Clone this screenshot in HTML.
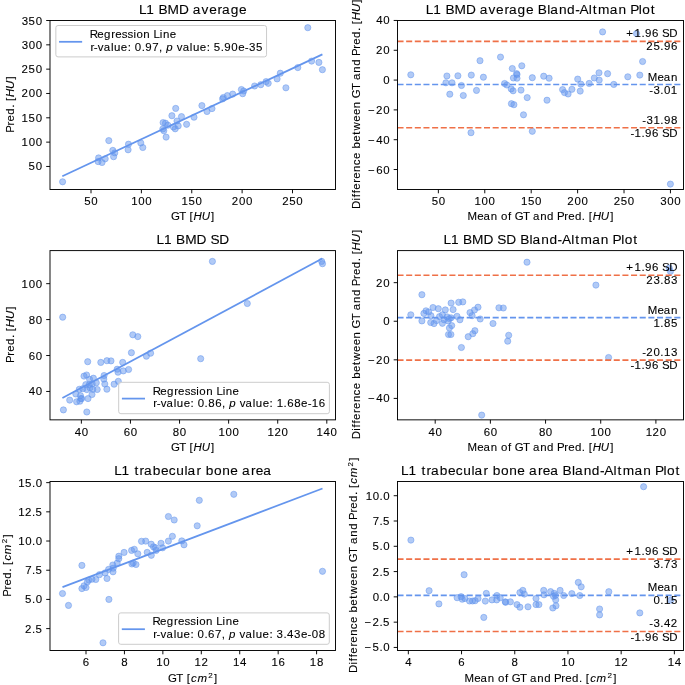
<!DOCTYPE html>
<html><head><meta charset="utf-8"><style>
html,body{margin:0;padding:0;background:#fff;}
svg{display:block;will-change:transform;}
svg text{font-family:"Liberation Sans",sans-serif;white-space:pre;}
</style></head><body>
<svg width="685" height="685" viewBox="0 0 685 685">
<rect width="685" height="685" fill="#fff"/>
<g fill="#6495ED" fill-opacity="0.5" stroke="#6495ED" stroke-opacity="0.5" stroke-width="1.0"><circle cx="62.6" cy="181.8" r="3.1"/><circle cx="98.6" cy="157.9" r="3.1"/><circle cx="98.1" cy="161.6" r="3.1"/><circle cx="102.0" cy="162.5" r="3.1"/><circle cx="105.2" cy="158.8" r="3.1"/><circle cx="108.8" cy="140.6" r="3.1"/><circle cx="112.8" cy="150.4" r="3.1"/><circle cx="114.8" cy="152.9" r="3.1"/><circle cx="113.6" cy="156.7" r="3.1"/><circle cx="128.5" cy="144.2" r="3.1"/><circle cx="128.1" cy="149.8" r="3.1"/><circle cx="140.8" cy="143.0" r="3.1"/><circle cx="142.8" cy="147.5" r="3.1"/><circle cx="166.1" cy="137.1" r="3.1"/><circle cx="163.1" cy="122.6" r="3.1"/><circle cx="165.5" cy="123.2" r="3.1"/><circle cx="167.8" cy="125.2" r="3.1"/><circle cx="162.8" cy="129.0" r="3.1"/><circle cx="163.8" cy="130.7" r="3.1"/><circle cx="175.7" cy="108.4" r="3.1"/><circle cx="171.9" cy="115.7" r="3.1"/><circle cx="181.5" cy="116.6" r="3.1"/><circle cx="177.0" cy="121.0" r="3.1"/><circle cx="178.2" cy="125.9" r="3.1"/><circle cx="175.2" cy="128.8" r="3.1"/><circle cx="173.4" cy="127.0" r="3.1"/><circle cx="186.6" cy="124.3" r="3.1"/><circle cx="194.0" cy="117.2" r="3.1"/><circle cx="201.9" cy="105.6" r="3.1"/><circle cx="207.0" cy="111.5" r="3.1"/><circle cx="212.0" cy="108.6" r="3.1"/><circle cx="222.6" cy="98.9" r="3.1"/><circle cx="223.3" cy="97.5" r="3.1"/><circle cx="227.4" cy="95.6" r="3.1"/><circle cx="232.7" cy="94.1" r="3.1"/><circle cx="241.4" cy="89.5" r="3.1"/><circle cx="243.7" cy="91.0" r="3.1"/><circle cx="242.7" cy="93.7" r="3.1"/><circle cx="254.6" cy="86.0" r="3.1"/><circle cx="260.8" cy="84.7" r="3.1"/><circle cx="266.1" cy="81.6" r="3.1"/><circle cx="268.2" cy="83.3" r="3.1"/><circle cx="277.1" cy="78.9" r="3.1"/><circle cx="280.3" cy="73.2" r="3.1"/><circle cx="285.9" cy="87.8" r="3.1"/><circle cx="297.8" cy="67.6" r="3.1"/><circle cx="307.8" cy="27.7" r="3.1"/><circle cx="311.6" cy="61.1" r="3.1"/><circle cx="318.9" cy="62.4" r="3.1"/><circle cx="322.4" cy="69.7" r="3.1"/></g>
<line x1="62.30" y1="176.30" x2="322.40" y2="54.40" stroke="#6495ED" stroke-width="1.75" stroke-linecap="butt"/>
<rect x="50" y="20.5" width="285.5" height="169.0" fill="none" stroke="#000" stroke-width="0.95"/>
<line x1="91.00" y1="189.50" x2="91.00" y2="193.30" stroke="#000" stroke-width="0.95" stroke-linecap="butt"/>
<g transform="translate(91.00,204.90)" fill="#000" stroke="#000" stroke-width="0.1"><text x="-6.72 0.30" y="0.00" font-size="11.46">50</text></g>
<line x1="141.38" y1="189.50" x2="141.38" y2="193.30" stroke="#000" stroke-width="0.95" stroke-linecap="butt"/>
<g transform="translate(141.38,204.90)" fill="#000" stroke="#000" stroke-width="0.1"><text x="-10.23 -3.19 3.79" y="0.00" font-size="11.46">100</text></g>
<line x1="191.75" y1="189.50" x2="191.75" y2="193.30" stroke="#000" stroke-width="0.95" stroke-linecap="butt"/>
<g transform="translate(191.75,204.90)" fill="#000" stroke="#000" stroke-width="0.1"><text x="-10.23 -3.23 3.79" y="0.00" font-size="11.46">150</text></g>
<line x1="242.12" y1="189.50" x2="242.12" y2="193.30" stroke="#000" stroke-width="0.95" stroke-linecap="butt"/>
<g transform="translate(242.12,204.90)" fill="#000" stroke="#000" stroke-width="0.1"><text x="-10.31 -3.19 3.79" y="0.00" font-size="11.46">200</text></g>
<line x1="292.50" y1="189.50" x2="292.50" y2="193.30" stroke="#000" stroke-width="0.95" stroke-linecap="butt"/>
<g transform="translate(292.50,204.90)" fill="#000" stroke="#000" stroke-width="0.1"><text x="-10.31 -3.23 3.79" y="0.00" font-size="11.46">250</text></g>
<line x1="46.20" y1="166.46" x2="50.00" y2="166.46" stroke="#000" stroke-width="0.95" stroke-linecap="butt"/>
<g transform="translate(42.30,170.46)" fill="#000" stroke="#000" stroke-width="0.1"><text x="-13.70 -6.68" y="0.00" font-size="11.46">50</text></g>
<line x1="46.20" y1="142.13" x2="50.00" y2="142.13" stroke="#000" stroke-width="0.95" stroke-linecap="butt"/>
<g transform="translate(42.30,146.13)" fill="#000" stroke="#000" stroke-width="0.1"><text x="-20.70 -13.66 -6.68" y="0.00" font-size="11.46">100</text></g>
<line x1="46.20" y1="117.81" x2="50.00" y2="117.81" stroke="#000" stroke-width="0.95" stroke-linecap="butt"/>
<g transform="translate(42.30,121.81)" fill="#000" stroke="#000" stroke-width="0.1"><text x="-20.70 -13.70 -6.68" y="0.00" font-size="11.46">150</text></g>
<line x1="46.20" y1="93.48" x2="50.00" y2="93.48" stroke="#000" stroke-width="0.95" stroke-linecap="butt"/>
<g transform="translate(42.30,97.48)" fill="#000" stroke="#000" stroke-width="0.1"><text x="-20.78 -13.66 -6.68" y="0.00" font-size="11.46">200</text></g>
<line x1="46.20" y1="69.15" x2="50.00" y2="69.15" stroke="#000" stroke-width="0.95" stroke-linecap="butt"/>
<g transform="translate(42.30,73.15)" fill="#000" stroke="#000" stroke-width="0.1"><text x="-20.78 -13.70 -6.68" y="0.00" font-size="11.46">250</text></g>
<line x1="46.20" y1="44.83" x2="50.00" y2="44.83" stroke="#000" stroke-width="0.95" stroke-linecap="butt"/>
<g transform="translate(42.30,48.83)" fill="#000" stroke="#000" stroke-width="0.1"><text x="-20.62 -13.66 -6.68" y="0.00" font-size="11.46">300</text></g>
<line x1="46.20" y1="20.50" x2="50.00" y2="20.50" stroke="#000" stroke-width="0.95" stroke-linecap="butt"/>
<g transform="translate(42.30,24.50)" fill="#000" stroke="#000" stroke-width="0.1"><text x="-20.62 -13.70 -6.68" y="0.00" font-size="11.46">350</text></g>
<g transform="translate(192.75,13.50)" fill="#000" stroke="#000" stroke-width="0.1"><text x="-53.87 -46.40 -38.17 -34.28 -25.25 -13.77 -3.63 0.07 8.84 16.38 24.86 29.30 37.88 46.17" y="0.00" font-size="13.69">L1 BMD average</text></g>
<g transform="translate(192.75,219.90)" fill="#000" stroke="#000" stroke-width="0.1"><text x="-21.78 -13.61 -6.61" y="0.00" font-size="11.46">GT </text><text x="-3.15" y="0.00" font-size="11.46">[</text><text x="0.81 8.89" y="0.00" font-size="11.46" font-style="italic">HU</text><text x="18.26" y="0.00" font-size="11.46">]</text></g>
<g transform="translate(14.20,104.30) rotate(-90)" fill="#000" stroke="#000" stroke-width="0.1"><text x="-28.44 -21.13 -17.21 -10.44 -3.56 -0.07" y="0.00" font-size="11.46">Pred. </text><text x="3.39" y="0.00" font-size="11.46">[</text><text x="7.35 15.43" y="0.00" font-size="11.46" font-style="italic">HU</text><text x="24.80" y="0.00" font-size="11.46">]</text></g>
<rect x="55.85" y="25.5" width="210.70000000000002" height="31.4" rx="2.2" fill="#fff" fill-opacity="0.8" stroke="#ccc" stroke-width="1"/>
<line x1="59.05" y1="41.80" x2="82.15" y2="41.80" stroke="#6495ED" stroke-width="1.75" stroke-linecap="butt"/>
<g transform="translate(89.95,38.00)" fill="#000" stroke="#000" stroke-width="0.1"><text x="-0.15 7.34 14.11 21.40 25.32 31.93 37.64 43.55 46.51 53.36 60.15 63.59 69.86 72.96 79.81" y="0.00" font-size="11.46">Regression Line</text></g>
<g transform="translate(89.95,50.50)" fill="#000" stroke="#000" stroke-width="0.1"><text x="0.56 3.88 7.85 13.73 20.94 24.00 30.90 37.69 41.28 44.92 51.74 55.35 62.34 69.08 72.68" y="0.00" font-size="11.46">r-value: 0.97, </text><text x="76.37" y="0.00" font-size="11.46" font-style="italic">p</text><text x="83.13 86.85 92.72 99.93 103.00 109.89 116.69 120.28 123.87 130.74 134.35 141.36 148.25 154.86 159.06 165.99" y="0.00" font-size="11.46"> value: 5.90e-35</text></g>
<g fill="#6495ED" fill-opacity="0.5" stroke="#6495ED" stroke-opacity="0.5" stroke-width="1.0"><circle cx="410.8" cy="74.8" r="3.1"/><circle cx="446.9" cy="76.0" r="3.1"/><circle cx="445.9" cy="82.8" r="3.1"/><circle cx="452.0" cy="82.8" r="3.1"/><circle cx="449.8" cy="94.2" r="3.1"/><circle cx="457.9" cy="75.8" r="3.1"/><circle cx="461.5" cy="85.5" r="3.1"/><circle cx="463.3" cy="95.5" r="3.1"/><circle cx="471.3" cy="75.1" r="3.1"/><circle cx="476.5" cy="90.4" r="3.1"/><circle cx="480.0" cy="60.7" r="3.1"/><circle cx="483.4" cy="77.2" r="3.1"/><circle cx="500.5" cy="57.1" r="3.1"/><circle cx="512.3" cy="68.5" r="3.1"/><circle cx="521.8" cy="65.8" r="3.1"/><circle cx="517.0" cy="74.6" r="3.1"/><circle cx="513.4" cy="78.0" r="3.1"/><circle cx="517.0" cy="78.2" r="3.1"/><circle cx="532.3" cy="77.7" r="3.1"/><circle cx="543.7" cy="76.2" r="3.1"/><circle cx="549.1" cy="78.2" r="3.1"/><circle cx="504.6" cy="83.5" r="3.1"/><circle cx="506.8" cy="85.0" r="3.1"/><circle cx="511.2" cy="88.9" r="3.1"/><circle cx="513.1" cy="90.8" r="3.1"/><circle cx="521.0" cy="90.1" r="3.1"/><circle cx="527.2" cy="97.6" r="3.1"/><circle cx="547.0" cy="100.2" r="3.1"/><circle cx="516.6" cy="73.6" r="3.1"/><circle cx="562.6" cy="89.6" r="3.1"/><circle cx="564.5" cy="92.6" r="3.1"/><circle cx="568.1" cy="94.0" r="3.1"/><circle cx="571.9" cy="89.3" r="3.1"/><circle cx="577.7" cy="79.1" r="3.1"/><circle cx="580.8" cy="84.1" r="3.1"/><circle cx="580.2" cy="91.1" r="3.1"/><circle cx="589.2" cy="83.4" r="3.1"/><circle cx="511.4" cy="103.7" r="3.1"/><circle cx="513.9" cy="104.7" r="3.1"/><circle cx="523.5" cy="114.8" r="3.1"/><circle cx="532.3" cy="131.3" r="3.1"/><circle cx="471.0" cy="132.7" r="3.1"/><circle cx="602.6" cy="31.9" r="3.1"/><circle cx="636.5" cy="33.6" r="3.1"/><circle cx="642.6" cy="61.5" r="3.1"/><circle cx="639.8" cy="75.1" r="3.1"/><circle cx="627.8" cy="76.8" r="3.1"/><circle cx="607.6" cy="73.7" r="3.1"/><circle cx="599.0" cy="72.8" r="3.1"/><circle cx="594.3" cy="78.0" r="3.1"/><circle cx="599.2" cy="80.1" r="3.1"/><circle cx="613.8" cy="84.4" r="3.1"/><circle cx="670.4" cy="184.1" r="3.1"/></g>
<line x1="397.50" y1="41.39" x2="683.50" y2="41.39" stroke="#EF7047" stroke-width="1.6" stroke-linecap="butt" stroke-dasharray="6.04,2.61"/>
<line x1="397.50" y1="84.57" x2="683.50" y2="84.57" stroke="#6495ED" stroke-width="1.6" stroke-linecap="butt" stroke-dasharray="6.04,2.61"/>
<line x1="397.50" y1="127.75" x2="683.50" y2="127.75" stroke="#EF7047" stroke-width="1.6" stroke-linecap="butt" stroke-dasharray="6.04,2.61"/>
<g transform="translate(677.60,37.39)" fill="#000" stroke="#000" stroke-width="0.1"><text x="-51.26 -43.08 -36.20 -32.59 -25.58 -18.75 -15.69 -8.34" y="0.00" font-size="11.46">+1.96 SD</text></g>
<g transform="translate(677.60,50.49)" fill="#000" stroke="#000" stroke-width="0.1"><text x="-31.25 -24.17 -17.30 -13.69 -6.68" y="0.00" font-size="11.46">25.96</text></g>
<g transform="translate(677.60,80.57)" fill="#000" stroke="#000" stroke-width="0.1"><text x="-29.93 -20.22 -13.91 -6.64" y="0.00" font-size="11.46">Mean</text></g>
<g transform="translate(677.60,93.67)" fill="#000" stroke="#000" stroke-width="0.1"><text x="-28.31 -24.11 -17.30 -13.66 -6.74" y="0.00" font-size="11.46">-3.01</text></g>
<g transform="translate(677.60,123.75)" fill="#000" stroke="#000" stroke-width="0.1"><text x="-35.29 -31.09 -24.18 -17.30 -13.69 -6.68" y="0.00" font-size="11.46">-31.98</text></g>
<g transform="translate(677.60,136.85)" fill="#000" stroke="#000" stroke-width="0.1"><text x="-47.21 -43.08 -36.20 -32.59 -25.58 -18.75 -15.69 -8.34" y="0.00" font-size="11.46">-1.96 SD</text></g>
<rect x="397.5" y="20.5" width="286.0" height="169.0" fill="none" stroke="#000" stroke-width="0.95"/>
<line x1="438.36" y1="189.50" x2="438.36" y2="193.30" stroke="#000" stroke-width="0.95" stroke-linecap="butt"/>
<g transform="translate(438.36,204.90)" fill="#000" stroke="#000" stroke-width="0.1"><text x="-6.72 0.30" y="0.00" font-size="11.46">50</text></g>
<line x1="484.78" y1="189.50" x2="484.78" y2="193.30" stroke="#000" stroke-width="0.95" stroke-linecap="butt"/>
<g transform="translate(484.78,204.90)" fill="#000" stroke="#000" stroke-width="0.1"><text x="-10.23 -3.19 3.79" y="0.00" font-size="11.46">100</text></g>
<line x1="531.19" y1="189.50" x2="531.19" y2="193.30" stroke="#000" stroke-width="0.95" stroke-linecap="butt"/>
<g transform="translate(531.19,204.90)" fill="#000" stroke="#000" stroke-width="0.1"><text x="-10.23 -3.23 3.79" y="0.00" font-size="11.46">150</text></g>
<line x1="577.61" y1="189.50" x2="577.61" y2="193.30" stroke="#000" stroke-width="0.95" stroke-linecap="butt"/>
<g transform="translate(577.61,204.90)" fill="#000" stroke="#000" stroke-width="0.1"><text x="-10.31 -3.19 3.79" y="0.00" font-size="11.46">200</text></g>
<line x1="624.02" y1="189.50" x2="624.02" y2="193.30" stroke="#000" stroke-width="0.95" stroke-linecap="butt"/>
<g transform="translate(624.02,204.90)" fill="#000" stroke="#000" stroke-width="0.1"><text x="-10.31 -3.23 3.79" y="0.00" font-size="11.46">250</text></g>
<line x1="670.44" y1="189.50" x2="670.44" y2="193.30" stroke="#000" stroke-width="0.95" stroke-linecap="butt"/>
<g transform="translate(670.44,204.90)" fill="#000" stroke="#000" stroke-width="0.1"><text x="-10.16 -3.19 3.79" y="0.00" font-size="11.46">300</text></g>
<line x1="393.70" y1="169.52" x2="397.50" y2="169.52" stroke="#000" stroke-width="0.95" stroke-linecap="butt"/>
<g transform="translate(389.80,173.52)" fill="#000" stroke="#000" stroke-width="0.1"><text x="-21.90 -13.66 -6.68" y="0.00" font-size="11.46">−60</text></g>
<line x1="393.70" y1="139.71" x2="397.50" y2="139.71" stroke="#000" stroke-width="0.95" stroke-linecap="butt"/>
<g transform="translate(389.80,143.71)" fill="#000" stroke="#000" stroke-width="0.1"><text x="-21.90 -13.66 -6.68" y="0.00" font-size="11.46">−40</text></g>
<line x1="393.70" y1="109.90" x2="397.50" y2="109.90" stroke="#000" stroke-width="0.95" stroke-linecap="butt"/>
<g transform="translate(389.80,113.90)" fill="#000" stroke="#000" stroke-width="0.1"><text x="-21.90 -13.80 -6.68" y="0.00" font-size="11.46">−20</text></g>
<line x1="393.70" y1="80.08" x2="397.50" y2="80.08" stroke="#000" stroke-width="0.95" stroke-linecap="butt"/>
<g transform="translate(389.80,84.08)" fill="#000" stroke="#000" stroke-width="0.1"><text x="-6.68" y="0.00" font-size="11.46">0</text></g>
<line x1="393.70" y1="50.27" x2="397.50" y2="50.27" stroke="#000" stroke-width="0.95" stroke-linecap="butt"/>
<g transform="translate(389.80,54.27)" fill="#000" stroke="#000" stroke-width="0.1"><text x="-13.80 -6.68" y="0.00" font-size="11.46">20</text></g>
<line x1="393.70" y1="20.46" x2="397.50" y2="20.46" stroke="#000" stroke-width="0.95" stroke-linecap="butt"/>
<g transform="translate(389.80,24.46)" fill="#000" stroke="#000" stroke-width="0.1"><text x="-13.66 -6.68" y="0.00" font-size="11.46">40</text></g>
<g transform="translate(540.50,13.50)" fill="#000" stroke="#000" stroke-width="0.1"><text x="-114.65 -107.18 -98.95 -95.06 -86.03 -74.55 -64.41 -60.71 -51.94 -44.40 -35.92 -31.48 -22.90 -14.61 -6.62 -2.73 6.65 9.71 18.40 26.60 34.72 38.99 48.34 52.31 57.53 69.29 77.98 86.09 89.67 98.27 101.82 110.26" y="0.00" font-size="13.69">L1 BMD average Bland-Altman Plot</text></g>
<g transform="translate(540.50,219.90)" fill="#000" stroke="#000" stroke-width="0.1"><text x="-73.08 -63.36 -57.06 -49.79 -43.00 -39.49 -32.47 -28.94 -25.81 -17.64 -10.64 -7.54 -0.27 6.60 13.49 16.49 23.80 27.72 34.49 41.37 44.86" y="0.00" font-size="11.46">Mean of GT and Pred. </text><text x="48.32" y="0.00" font-size="11.46">[</text><text x="52.28 60.36" y="0.00" font-size="11.46" font-style="italic">HU</text><text x="69.73" y="0.00" font-size="11.46">]</text></g>
<g transform="translate(360.30,104.30) rotate(-90)" fill="#000" stroke="#000" stroke-width="0.1"><text x="-104.78 -96.18 -92.91 -89.05 -85.46 -78.36 -74.44 -67.59 -60.93 -54.71 -48.01 -44.31 -37.51 -30.44 -26.32 -17.48 -10.73 -3.88 2.91 6.04 14.21 21.21 24.30 31.58 38.45 45.33 48.34 55.65 59.57 66.34 73.22 76.71" y="0.00" font-size="11.46">Difference between GT and Pred. </text><text x="80.17" y="0.00" font-size="11.46">[</text><text x="84.13 92.21" y="0.00" font-size="11.46" font-style="italic">HU</text><text x="101.58" y="0.00" font-size="11.46">]</text></g>
<g fill="#6495ED" fill-opacity="0.5" stroke="#6495ED" stroke-opacity="0.5" stroke-width="1.0"><circle cx="62.7" cy="317.2" r="3.1"/><circle cx="63.4" cy="409.9" r="3.1"/><circle cx="86.8" cy="412.0" r="3.1"/><circle cx="69.7" cy="400.1" r="3.1"/><circle cx="76.6" cy="401.8" r="3.1"/><circle cx="79.9" cy="401.2" r="3.1"/><circle cx="80.9" cy="398.6" r="3.1"/><circle cx="88.0" cy="398.6" r="3.1"/><circle cx="92.0" cy="394.5" r="3.1"/><circle cx="87.7" cy="361.7" r="3.1"/><circle cx="100.8" cy="362.4" r="3.1"/><circle cx="106.9" cy="360.7" r="3.1"/><circle cx="111.0" cy="360.9" r="3.1"/><circle cx="122.7" cy="362.4" r="3.1"/><circle cx="131.4" cy="352.7" r="3.1"/><circle cx="132.8" cy="334.8" r="3.1"/><circle cx="137.8" cy="336.6" r="3.1"/><circle cx="146.4" cy="356.2" r="3.1"/><circle cx="150.6" cy="353.2" r="3.1"/><circle cx="117.2" cy="369.2" r="3.1"/><circle cx="118.0" cy="372.2" r="3.1"/><circle cx="123.3" cy="370.9" r="3.1"/><circle cx="128.6" cy="369.5" r="3.1"/><circle cx="118.3" cy="381.3" r="3.1"/><circle cx="114.1" cy="384.2" r="3.1"/><circle cx="106.9" cy="389.2" r="3.1"/><circle cx="104.8" cy="384.0" r="3.1"/><circle cx="103.8" cy="379.1" r="3.1"/><circle cx="104.1" cy="375.5" r="3.1"/><circle cx="97.2" cy="389.5" r="3.1"/><circle cx="84.0" cy="376.1" r="3.1"/><circle cx="86.6" cy="375.0" r="3.1"/><circle cx="89.6" cy="379.3" r="3.1"/><circle cx="93.4" cy="378.2" r="3.1"/><circle cx="85.8" cy="384.6" r="3.1"/><circle cx="89.3" cy="384.6" r="3.1"/><circle cx="92.2" cy="384.0" r="3.1"/><circle cx="96.3" cy="382.8" r="3.1"/><circle cx="92.8" cy="389.3" r="3.1"/><circle cx="90.0" cy="387.8" r="3.1"/><circle cx="86.8" cy="389.6" r="3.1"/><circle cx="82.8" cy="388.7" r="3.1"/><circle cx="79.3" cy="389.3" r="3.1"/><circle cx="75.8" cy="394.0" r="3.1"/><circle cx="80.5" cy="395.7" r="3.1"/><circle cx="81.7" cy="398.6" r="3.1"/><circle cx="212.4" cy="261.4" r="3.1"/><circle cx="247.3" cy="303.5" r="3.1"/><circle cx="321.7" cy="261.4" r="3.1"/><circle cx="322.5" cy="263.7" r="3.1"/><circle cx="200.7" cy="358.7" r="3.1"/></g>
<line x1="62.40" y1="397.90" x2="322.30" y2="258.60" stroke="#6495ED" stroke-width="1.75" stroke-linecap="butt"/>
<rect x="50" y="250.6" width="285.5" height="169.25000000000003" fill="none" stroke="#000" stroke-width="0.95"/>
<line x1="81.36" y1="419.85" x2="81.36" y2="423.65" stroke="#000" stroke-width="0.95" stroke-linecap="butt"/>
<g transform="translate(81.36,435.65)" fill="#000" stroke="#000" stroke-width="0.1"><text x="-6.68 0.30" y="0.00" font-size="11.46">40</text></g>
<line x1="130.45" y1="419.85" x2="130.45" y2="423.65" stroke="#000" stroke-width="0.95" stroke-linecap="butt"/>
<g transform="translate(130.45,435.65)" fill="#000" stroke="#000" stroke-width="0.1"><text x="-6.68 0.30" y="0.00" font-size="11.46">60</text></g>
<line x1="179.54" y1="419.85" x2="179.54" y2="423.65" stroke="#000" stroke-width="0.95" stroke-linecap="butt"/>
<g transform="translate(179.54,435.65)" fill="#000" stroke="#000" stroke-width="0.1"><text x="-6.68 0.30" y="0.00" font-size="11.46">80</text></g>
<line x1="228.62" y1="419.85" x2="228.62" y2="423.65" stroke="#000" stroke-width="0.95" stroke-linecap="butt"/>
<g transform="translate(228.62,435.65)" fill="#000" stroke="#000" stroke-width="0.1"><text x="-10.23 -3.19 3.79" y="0.00" font-size="11.46">100</text></g>
<line x1="277.71" y1="419.85" x2="277.71" y2="423.65" stroke="#000" stroke-width="0.95" stroke-linecap="butt"/>
<g transform="translate(277.71,435.65)" fill="#000" stroke="#000" stroke-width="0.1"><text x="-10.23 -3.34 3.79" y="0.00" font-size="11.46">120</text></g>
<line x1="326.80" y1="419.85" x2="326.80" y2="423.65" stroke="#000" stroke-width="0.95" stroke-linecap="butt"/>
<g transform="translate(326.80,435.65)" fill="#000" stroke="#000" stroke-width="0.1"><text x="-10.23 -3.19 3.79" y="0.00" font-size="11.46">140</text></g>
<line x1="46.20" y1="391.46" x2="50.00" y2="391.46" stroke="#000" stroke-width="0.95" stroke-linecap="butt"/>
<g transform="translate(42.30,395.46)" fill="#000" stroke="#000" stroke-width="0.1"><text x="-13.66 -6.68" y="0.00" font-size="11.46">40</text></g>
<line x1="46.20" y1="355.53" x2="50.00" y2="355.53" stroke="#000" stroke-width="0.95" stroke-linecap="butt"/>
<g transform="translate(42.30,359.53)" fill="#000" stroke="#000" stroke-width="0.1"><text x="-13.66 -6.68" y="0.00" font-size="11.46">60</text></g>
<line x1="46.20" y1="319.59" x2="50.00" y2="319.59" stroke="#000" stroke-width="0.95" stroke-linecap="butt"/>
<g transform="translate(42.30,323.59)" fill="#000" stroke="#000" stroke-width="0.1"><text x="-13.66 -6.68" y="0.00" font-size="11.46">80</text></g>
<line x1="46.20" y1="283.66" x2="50.00" y2="283.66" stroke="#000" stroke-width="0.95" stroke-linecap="butt"/>
<g transform="translate(42.30,287.66)" fill="#000" stroke="#000" stroke-width="0.1"><text x="-20.70 -13.66 -6.68" y="0.00" font-size="11.46">100</text></g>
<g transform="translate(192.75,243.60)" fill="#000" stroke="#000" stroke-width="0.1"><text x="-36.25 -28.78 -20.56 -16.67 -7.63 3.84 13.98 17.63 26.41" y="0.00" font-size="13.69">L1 BMD SD</text></g>
<g transform="translate(192.75,450.65)" fill="#000" stroke="#000" stroke-width="0.1"><text x="-21.78 -13.61 -6.61" y="0.00" font-size="11.46">GT </text><text x="-3.15" y="0.00" font-size="11.46">[</text><text x="0.81 8.89" y="0.00" font-size="11.46" font-style="italic">HU</text><text x="18.26" y="0.00" font-size="11.46">]</text></g>
<g transform="translate(14.20,334.53) rotate(-90)" fill="#000" stroke="#000" stroke-width="0.1"><text x="-28.44 -21.13 -17.21 -10.44 -3.56 -0.07" y="0.00" font-size="11.46">Pred. </text><text x="3.39" y="0.00" font-size="11.46">[</text><text x="7.35 15.43" y="0.00" font-size="11.46" font-style="italic">HU</text><text x="24.80" y="0.00" font-size="11.46">]</text></g>
<rect x="118.7" y="382.3" width="210.7" height="31.399999999999977" rx="2.2" fill="#fff" fill-opacity="0.8" stroke="#ccc" stroke-width="1"/>
<line x1="121.90" y1="398.60" x2="145.00" y2="398.60" stroke="#6495ED" stroke-width="1.75" stroke-linecap="butt"/>
<g transform="translate(152.80,394.80)" fill="#000" stroke="#000" stroke-width="0.1"><text x="-0.15 7.34 14.11 21.40 25.32 31.93 37.64 43.55 46.51 53.36 60.15 63.59 69.86 72.96 79.81" y="0.00" font-size="11.46">Regression Line</text></g>
<g transform="translate(152.80,407.30)" fill="#000" stroke="#000" stroke-width="0.1"><text x="0.56 3.88 7.85 13.73 20.94 24.00 30.90 37.69 41.28 44.92 51.74 55.38 62.37 69.08 72.68" y="0.00" font-size="11.46">r-value: 0.86, </text><text x="76.37" y="0.00" font-size="11.46" font-style="italic">p</text><text x="83.13 86.85 92.72 99.93 103.00 109.89 116.69 120.28 123.86 130.74 134.38 141.36 148.25 154.86 158.99 166.03" y="0.00" font-size="11.46"> value: 1.68e-16</text></g>
<g fill="#6495ED" fill-opacity="0.5" stroke="#6495ED" stroke-opacity="0.5" stroke-width="1.0"><circle cx="421.9" cy="294.7" r="3.1"/><circle cx="410.8" cy="314.8" r="3.1"/><circle cx="421.9" cy="320.9" r="3.1"/><circle cx="423.9" cy="313.4" r="3.1"/><circle cx="426.0" cy="310.8" r="3.1"/><circle cx="428.6" cy="312.0" r="3.1"/><circle cx="433.0" cy="307.5" r="3.1"/><circle cx="438.3" cy="308.7" r="3.1"/><circle cx="445.3" cy="309.9" r="3.1"/><circle cx="451.1" cy="303.1" r="3.1"/><circle cx="453.1" cy="309.6" r="3.1"/><circle cx="458.7" cy="302.3" r="3.1"/><circle cx="462.8" cy="301.9" r="3.1"/><circle cx="430.9" cy="315.7" r="3.1"/><circle cx="430.7" cy="322.5" r="3.1"/><circle cx="434.0" cy="323.6" r="3.1"/><circle cx="436.5" cy="320.6" r="3.1"/><circle cx="439.5" cy="316.6" r="3.1"/><circle cx="442.4" cy="314.8" r="3.1"/><circle cx="444.1" cy="319.8" r="3.1"/><circle cx="442.4" cy="323.3" r="3.1"/><circle cx="447.1" cy="316.9" r="3.1"/><circle cx="449.4" cy="318.6" r="3.1"/><circle cx="448.2" cy="321.0" r="3.1"/><circle cx="451.1" cy="317.8" r="3.1"/><circle cx="451.7" cy="325.6" r="3.1"/><circle cx="449.4" cy="328.0" r="3.1"/><circle cx="448.5" cy="334.5" r="3.1"/><circle cx="450.9" cy="334.5" r="3.1"/><circle cx="457.0" cy="316.3" r="3.1"/><circle cx="459.9" cy="319.8" r="3.1"/><circle cx="461.4" cy="347.5" r="3.1"/><circle cx="468.2" cy="336.7" r="3.1"/><circle cx="472.8" cy="333.7" r="3.1"/><circle cx="474.9" cy="330.7" r="3.1"/><circle cx="470.0" cy="312.6" r="3.1"/><circle cx="472.1" cy="315.7" r="3.1"/><circle cx="474.5" cy="310.0" r="3.1"/><circle cx="478.0" cy="307.2" r="3.1"/><circle cx="480.2" cy="319.0" r="3.1"/><circle cx="493.0" cy="323.5" r="3.1"/><circle cx="498.9" cy="307.8" r="3.1"/><circle cx="503.3" cy="308.0" r="3.1"/><circle cx="508.7" cy="335.3" r="3.1"/><circle cx="507.7" cy="341.2" r="3.1"/><circle cx="527.0" cy="262.2" r="3.1"/><circle cx="595.9" cy="285.1" r="3.1"/><circle cx="669.2" cy="268.0" r="3.1"/><circle cx="670.4" cy="271.4" r="3.1"/><circle cx="608.6" cy="357.5" r="3.1"/><circle cx="481.7" cy="415.1" r="3.1"/></g>
<line x1="397.50" y1="275.27" x2="683.50" y2="275.27" stroke="#EF7047" stroke-width="1.6" stroke-linecap="butt" stroke-dasharray="6.04,2.61"/>
<line x1="397.50" y1="317.67" x2="683.50" y2="317.67" stroke="#6495ED" stroke-width="1.6" stroke-linecap="butt" stroke-dasharray="6.04,2.61"/>
<line x1="397.50" y1="360.08" x2="683.50" y2="360.08" stroke="#EF7047" stroke-width="1.6" stroke-linecap="butt" stroke-dasharray="6.04,2.61"/>
<g transform="translate(677.60,271.27)" fill="#000" stroke="#000" stroke-width="0.1"><text x="-51.26 -43.08 -36.20 -32.59 -25.58 -18.75 -15.69 -8.34" y="0.00" font-size="11.46">+1.96 SD</text></g>
<g transform="translate(677.60,284.37)" fill="#000" stroke="#000" stroke-width="0.1"><text x="-31.25 -24.11 -17.30 -13.66 -6.67" y="0.00" font-size="11.46">23.83</text></g>
<g transform="translate(677.60,313.67)" fill="#000" stroke="#000" stroke-width="0.1"><text x="-29.93 -20.22 -13.91 -6.64" y="0.00" font-size="11.46">Mean</text></g>
<g transform="translate(677.60,326.77)" fill="#000" stroke="#000" stroke-width="0.1"><text x="-24.18 -17.30 -13.66 -6.72" y="0.00" font-size="11.46">1.85</text></g>
<g transform="translate(677.60,356.08)" fill="#000" stroke="#000" stroke-width="0.1"><text x="-35.29 -31.25 -24.13 -17.30 -13.72 -6.67" y="0.00" font-size="11.46">-20.13</text></g>
<g transform="translate(677.60,369.18)" fill="#000" stroke="#000" stroke-width="0.1"><text x="-47.21 -43.08 -36.20 -32.59 -25.58 -18.75 -15.69 -8.34" y="0.00" font-size="11.46">-1.96 SD</text></g>
<rect x="397.5" y="250.6" width="286.0" height="169.25000000000003" fill="none" stroke="#000" stroke-width="0.95"/>
<line x1="435.20" y1="419.85" x2="435.20" y2="423.65" stroke="#000" stroke-width="0.95" stroke-linecap="butt"/>
<g transform="translate(435.20,435.65)" fill="#000" stroke="#000" stroke-width="0.1"><text x="-6.68 0.30" y="0.00" font-size="11.46">40</text></g>
<line x1="490.38" y1="419.85" x2="490.38" y2="423.65" stroke="#000" stroke-width="0.95" stroke-linecap="butt"/>
<g transform="translate(490.38,435.65)" fill="#000" stroke="#000" stroke-width="0.1"><text x="-6.68 0.30" y="0.00" font-size="11.46">60</text></g>
<line x1="545.55" y1="419.85" x2="545.55" y2="423.65" stroke="#000" stroke-width="0.95" stroke-linecap="butt"/>
<g transform="translate(545.55,435.65)" fill="#000" stroke="#000" stroke-width="0.1"><text x="-6.68 0.30" y="0.00" font-size="11.46">80</text></g>
<line x1="600.73" y1="419.85" x2="600.73" y2="423.65" stroke="#000" stroke-width="0.95" stroke-linecap="butt"/>
<g transform="translate(600.73,435.65)" fill="#000" stroke="#000" stroke-width="0.1"><text x="-10.23 -3.19 3.79" y="0.00" font-size="11.46">100</text></g>
<line x1="655.90" y1="419.85" x2="655.90" y2="423.65" stroke="#000" stroke-width="0.95" stroke-linecap="butt"/>
<g transform="translate(655.90,435.65)" fill="#000" stroke="#000" stroke-width="0.1"><text x="-10.23 -3.34 3.79" y="0.00" font-size="11.46">120</text></g>
<line x1="393.70" y1="398.41" x2="397.50" y2="398.41" stroke="#000" stroke-width="0.95" stroke-linecap="butt"/>
<g transform="translate(389.80,402.41)" fill="#000" stroke="#000" stroke-width="0.1"><text x="-21.90 -13.66 -6.68" y="0.00" font-size="11.46">−40</text></g>
<line x1="393.70" y1="359.83" x2="397.50" y2="359.83" stroke="#000" stroke-width="0.95" stroke-linecap="butt"/>
<g transform="translate(389.80,363.83)" fill="#000" stroke="#000" stroke-width="0.1"><text x="-21.90 -13.80 -6.68" y="0.00" font-size="11.46">−20</text></g>
<line x1="393.70" y1="321.24" x2="397.50" y2="321.24" stroke="#000" stroke-width="0.95" stroke-linecap="butt"/>
<g transform="translate(389.80,325.24)" fill="#000" stroke="#000" stroke-width="0.1"><text x="-6.68" y="0.00" font-size="11.46">0</text></g>
<line x1="393.70" y1="282.66" x2="397.50" y2="282.66" stroke="#000" stroke-width="0.95" stroke-linecap="butt"/>
<g transform="translate(389.80,286.66)" fill="#000" stroke="#000" stroke-width="0.1"><text x="-13.80 -6.68" y="0.00" font-size="11.46">20</text></g>
<g transform="translate(540.50,243.60)" fill="#000" stroke="#000" stroke-width="0.1"><text x="-97.03 -89.56 -81.34 -77.45 -68.41 -56.94 -46.80 -43.15 -34.37 -24.23 -20.34 -10.96 -7.90 0.78 8.98 17.11 21.38 30.73 34.70 39.92 51.68 60.37 68.48 72.06 80.66 84.20 92.65" y="0.00" font-size="13.69">L1 BMD SD Bland-Altman Plot</text></g>
<g transform="translate(540.50,450.65)" fill="#000" stroke="#000" stroke-width="0.1"><text x="-73.08 -63.36 -57.06 -49.79 -43.00 -39.49 -32.47 -28.94 -25.81 -17.64 -10.64 -7.54 -0.27 6.60 13.49 16.49 23.80 27.72 34.49 41.37 44.86" y="0.00" font-size="11.46">Mean of GT and Pred. </text><text x="48.32" y="0.00" font-size="11.46">[</text><text x="52.28 60.36" y="0.00" font-size="11.46" font-style="italic">HU</text><text x="69.73" y="0.00" font-size="11.46">]</text></g>
<g transform="translate(360.40,334.53) rotate(-90)" fill="#000" stroke="#000" stroke-width="0.1"><text x="-104.78 -96.18 -92.91 -89.05 -85.46 -78.36 -74.44 -67.59 -60.93 -54.71 -48.01 -44.31 -37.51 -30.44 -26.32 -17.48 -10.73 -3.88 2.91 6.04 14.21 21.21 24.30 31.58 38.45 45.33 48.34 55.65 59.57 66.34 73.22 76.71" y="0.00" font-size="11.46">Difference between GT and Pred. </text><text x="80.17" y="0.00" font-size="11.46">[</text><text x="84.13 92.21" y="0.00" font-size="11.46" font-style="italic">HU</text><text x="101.58" y="0.00" font-size="11.46">]</text></g>
<g fill="#6495ED" fill-opacity="0.5" stroke="#6495ED" stroke-opacity="0.5" stroke-width="1.0"><circle cx="62.5" cy="593.5" r="3.1"/><circle cx="68.5" cy="605.4" r="3.1"/><circle cx="81.9" cy="565.4" r="3.1"/><circle cx="81.9" cy="588.6" r="3.1"/><circle cx="86.0" cy="587.5" r="3.1"/><circle cx="84.0" cy="585.8" r="3.1"/><circle cx="87.3" cy="582.0" r="3.1"/><circle cx="88.8" cy="580.1" r="3.1"/><circle cx="92.0" cy="579.2" r="3.1"/><circle cx="95.8" cy="579.5" r="3.1"/><circle cx="99.4" cy="574.7" r="3.1"/><circle cx="105.1" cy="572.9" r="3.1"/><circle cx="107.0" cy="578.5" r="3.1"/><circle cx="108.6" cy="569.4" r="3.1"/><circle cx="112.8" cy="565.0" r="3.1"/><circle cx="113.2" cy="568.2" r="3.1"/><circle cx="113.0" cy="571.8" r="3.1"/><circle cx="117.2" cy="563.1" r="3.1"/><circle cx="118.8" cy="556.2" r="3.1"/><circle cx="118.8" cy="558.7" r="3.1"/><circle cx="124.1" cy="552.4" r="3.1"/><circle cx="108.9" cy="599.4" r="3.1"/><circle cx="103.0" cy="642.8" r="3.1"/><circle cx="131.6" cy="550.4" r="3.1"/><circle cx="134.3" cy="549.3" r="3.1"/><circle cx="137.8" cy="553.8" r="3.1"/><circle cx="131.9" cy="564.0" r="3.1"/><circle cx="136.0" cy="564.5" r="3.1"/><circle cx="133.2" cy="563.0" r="3.1"/><circle cx="141.5" cy="541.3" r="3.1"/><circle cx="145.7" cy="541.1" r="3.1"/><circle cx="147.2" cy="552.4" r="3.1"/><circle cx="151.2" cy="544.2" r="3.1"/><circle cx="153.5" cy="546.9" r="3.1"/><circle cx="155.5" cy="547.7" r="3.1"/><circle cx="156.1" cy="550.4" r="3.1"/><circle cx="151.3" cy="555.3" r="3.1"/><circle cx="161.0" cy="543.3" r="3.1"/><circle cx="162.6" cy="547.8" r="3.1"/><circle cx="168.4" cy="541.1" r="3.1"/><circle cx="172.4" cy="536.3" r="3.1"/><circle cx="168.4" cy="516.5" r="3.1"/><circle cx="174.2" cy="520.0" r="3.1"/><circle cx="197.2" cy="525.8" r="3.1"/><circle cx="199.3" cy="500.3" r="3.1"/><circle cx="181.8" cy="540.9" r="3.1"/><circle cx="184.0" cy="544.8" r="3.1"/><circle cx="233.8" cy="494.3" r="3.1"/><circle cx="322.5" cy="571.3" r="3.1"/></g>
<line x1="62.50" y1="587.10" x2="322.50" y2="488.50" stroke="#6495ED" stroke-width="1.75" stroke-linecap="butt"/>
<rect x="50" y="481.5" width="285.5" height="169.0" fill="none" stroke="#000" stroke-width="0.95"/>
<line x1="86.00" y1="650.50" x2="86.00" y2="654.30" stroke="#000" stroke-width="0.95" stroke-linecap="butt"/>
<g transform="translate(86.00,665.90)" fill="#000" stroke="#000" stroke-width="0.1"><text x="-3.19" y="0.00" font-size="11.46">6</text></g>
<line x1="124.43" y1="650.50" x2="124.43" y2="654.30" stroke="#000" stroke-width="0.95" stroke-linecap="butt"/>
<g transform="translate(124.43,665.90)" fill="#000" stroke="#000" stroke-width="0.1"><text x="-3.19" y="0.00" font-size="11.46">8</text></g>
<line x1="162.87" y1="650.50" x2="162.87" y2="654.30" stroke="#000" stroke-width="0.95" stroke-linecap="butt"/>
<g transform="translate(162.87,665.90)" fill="#000" stroke="#000" stroke-width="0.1"><text x="-6.74 0.30" y="0.00" font-size="11.46">10</text></g>
<line x1="201.30" y1="650.50" x2="201.30" y2="654.30" stroke="#000" stroke-width="0.95" stroke-linecap="butt"/>
<g transform="translate(201.30,665.90)" fill="#000" stroke="#000" stroke-width="0.1"><text x="-6.74 0.15" y="0.00" font-size="11.46">12</text></g>
<line x1="239.73" y1="650.50" x2="239.73" y2="654.30" stroke="#000" stroke-width="0.95" stroke-linecap="butt"/>
<g transform="translate(239.73,665.90)" fill="#000" stroke="#000" stroke-width="0.1"><text x="-6.74 0.30" y="0.00" font-size="11.46">14</text></g>
<line x1="278.17" y1="650.50" x2="278.17" y2="654.30" stroke="#000" stroke-width="0.95" stroke-linecap="butt"/>
<g transform="translate(278.17,665.90)" fill="#000" stroke="#000" stroke-width="0.1"><text x="-6.74 0.30" y="0.00" font-size="11.46">16</text></g>
<line x1="316.60" y1="650.50" x2="316.60" y2="654.30" stroke="#000" stroke-width="0.95" stroke-linecap="butt"/>
<g transform="translate(316.60,665.90)" fill="#000" stroke="#000" stroke-width="0.1"><text x="-6.74 0.30" y="0.00" font-size="11.46">18</text></g>
<line x1="46.20" y1="628.60" x2="50.00" y2="628.60" stroke="#000" stroke-width="0.95" stroke-linecap="butt"/>
<g transform="translate(42.30,632.60)" fill="#000" stroke="#000" stroke-width="0.1"><text x="-17.29 -10.32 -6.72" y="0.00" font-size="11.46">2.5</text></g>
<line x1="46.20" y1="599.41" x2="50.00" y2="599.41" stroke="#000" stroke-width="0.95" stroke-linecap="butt"/>
<g transform="translate(42.30,603.41)" fill="#000" stroke="#000" stroke-width="0.1"><text x="-17.19 -10.32 -6.68" y="0.00" font-size="11.46">5.0</text></g>
<line x1="46.20" y1="570.22" x2="50.00" y2="570.22" stroke="#000" stroke-width="0.95" stroke-linecap="butt"/>
<g transform="translate(42.30,574.22)" fill="#000" stroke="#000" stroke-width="0.1"><text x="-17.17 -10.32 -6.72" y="0.00" font-size="11.46">7.5</text></g>
<line x1="46.20" y1="541.02" x2="50.00" y2="541.02" stroke="#000" stroke-width="0.95" stroke-linecap="butt"/>
<g transform="translate(42.30,545.02)" fill="#000" stroke="#000" stroke-width="0.1"><text x="-24.18 -17.15 -10.32 -6.68" y="0.00" font-size="11.46">10.0</text></g>
<line x1="46.20" y1="511.83" x2="50.00" y2="511.83" stroke="#000" stroke-width="0.95" stroke-linecap="butt"/>
<g transform="translate(42.30,515.83)" fill="#000" stroke="#000" stroke-width="0.1"><text x="-24.18 -17.29 -10.32 -6.72" y="0.00" font-size="11.46">12.5</text></g>
<line x1="46.20" y1="482.64" x2="50.00" y2="482.64" stroke="#000" stroke-width="0.95" stroke-linecap="butt"/>
<g transform="translate(42.30,486.64)" fill="#000" stroke="#000" stroke-width="0.1"><text x="-24.18 -17.19 -10.32 -6.68" y="0.00" font-size="11.46">15.0</text></g>
<g transform="translate(192.75,474.50)" fill="#000" stroke="#000" stroke-width="0.1"><text x="-78.64 -71.17 -62.94 -58.33 -53.16 -48.72 -39.98 -31.85 -24.01 -16.52 -8.23 -5.18 3.81 8.70 13.12 21.21 29.39 37.57 45.56 49.26 58.24 62.92 70.44" y="0.00" font-size="13.69">L1 trabecular bone area</text></g>
<g transform="translate(192.75,681.90)" fill="#000" stroke="#000" stroke-width="0.1"><text x="-24.74 -16.57 -9.57" y="0.00" font-size="11.46">GT </text><text x="-6.11" y="0.00" font-size="11.46">[</text><text x="-1.75 4.64" y="0.00" font-size="11.46" font-style="italic">cm</text><text x="15.47" y="-3.95" font-size="8.02">2</text><text x="21.22" y="0.00" font-size="11.46">]</text></g>
<g transform="translate(11.30,565.30) rotate(-90)" fill="#000" stroke="#000" stroke-width="0.1"><text x="-31.40 -24.09 -20.17 -13.40 -6.52 -3.03" y="0.00" font-size="11.46">Pred. </text><text x="0.43" y="0.00" font-size="11.46">[</text><text x="4.79 11.18" y="0.00" font-size="11.46" font-style="italic">cm</text><text x="22.01" y="-3.95" font-size="8.02">2</text><text x="27.76" y="0.00" font-size="11.46">]</text></g>
<rect x="118.6" y="612.9" width="210.69999999999996" height="31.399999999999977" rx="2.2" fill="#fff" fill-opacity="0.8" stroke="#ccc" stroke-width="1"/>
<line x1="121.80" y1="629.20" x2="144.90" y2="629.20" stroke="#6495ED" stroke-width="1.75" stroke-linecap="butt"/>
<g transform="translate(152.70,625.40)" fill="#000" stroke="#000" stroke-width="0.1"><text x="-0.15 7.34 14.11 21.40 25.32 31.93 37.64 43.55 46.51 53.36 60.15 63.59 69.86 72.96 79.81" y="0.00" font-size="11.46">Regression Line</text></g>
<g transform="translate(152.70,637.90)" fill="#000" stroke="#000" stroke-width="0.1"><text x="0.56 3.88 7.85 13.73 20.94 24.00 30.90 37.69 41.28 44.92 51.74 55.39 62.34 69.08 72.68" y="0.00" font-size="11.46">r-value: 0.67, </text><text x="76.37" y="0.00" font-size="11.46" font-style="italic">p</text><text x="83.13 86.85 92.72 99.93 103.00 109.89 116.69 120.28 123.93 130.74 134.38 141.38 148.25 154.86 159.05 166.03" y="0.00" font-size="11.46"> value: 3.43e-08</text></g>
<g fill="#6495ED" fill-opacity="0.5" stroke="#6495ED" stroke-opacity="0.5" stroke-width="1.0"><circle cx="410.9" cy="540.1" r="3.1"/><circle cx="429.1" cy="590.7" r="3.1"/><circle cx="438.9" cy="603.9" r="3.1"/><circle cx="464.1" cy="574.7" r="3.1"/><circle cx="457.1" cy="597.7" r="3.1"/><circle cx="461.1" cy="596.7" r="3.1"/><circle cx="462.2" cy="599.2" r="3.1"/><circle cx="464.9" cy="598.5" r="3.1"/><circle cx="469.5" cy="601.0" r="3.1"/><circle cx="472.5" cy="601.0" r="3.1"/><circle cx="475.1" cy="600.7" r="3.1"/><circle cx="478.0" cy="598.5" r="3.1"/><circle cx="485.3" cy="601.1" r="3.1"/><circle cx="486.3" cy="593.4" r="3.1"/><circle cx="483.8" cy="617.4" r="3.1"/><circle cx="492.0" cy="599.9" r="3.1"/><circle cx="496.9" cy="595.5" r="3.1"/><circle cx="496.7" cy="599.9" r="3.1"/><circle cx="500.2" cy="597.7" r="3.1"/><circle cx="505.3" cy="601.8" r="3.1"/><circle cx="505.6" cy="602.3" r="3.1"/><circle cx="510.4" cy="601.8" r="3.1"/><circle cx="517.0" cy="604.6" r="3.1"/><circle cx="519.9" cy="607.2" r="3.1"/><circle cx="519.9" cy="592.6" r="3.1"/><circle cx="522.8" cy="590.4" r="3.1"/><circle cx="524.3" cy="594.1" r="3.1"/><circle cx="528.0" cy="606.8" r="3.1"/><circle cx="536.0" cy="598.5" r="3.1"/><circle cx="536.0" cy="604.6" r="3.1"/><circle cx="538.9" cy="604.6" r="3.1"/><circle cx="543.7" cy="590.4" r="3.1"/><circle cx="544.0" cy="594.8" r="3.1"/><circle cx="550.6" cy="591.6" r="3.1"/><circle cx="554.2" cy="593.4" r="3.1"/><circle cx="555.4" cy="595.5" r="3.1"/><circle cx="553.5" cy="596.3" r="3.1"/><circle cx="555.7" cy="599.9" r="3.1"/><circle cx="556.0" cy="605.8" r="3.1"/><circle cx="552.8" cy="608.0" r="3.1"/><circle cx="560.1" cy="590.4" r="3.1"/><circle cx="563.7" cy="595.5" r="3.1"/><circle cx="571.8" cy="593.6" r="3.1"/><circle cx="579.8" cy="595.5" r="3.1"/><circle cx="578.3" cy="582.4" r="3.1"/><circle cx="581.2" cy="586.8" r="3.1"/><circle cx="608.8" cy="591.7" r="3.1"/><circle cx="599.6" cy="609.0" r="3.1"/><circle cx="599.6" cy="614.9" r="3.1"/><circle cx="639.8" cy="612.9" r="3.1"/><circle cx="670.7" cy="600.2" r="3.1"/><circle cx="643.6" cy="486.7" r="3.1"/></g>
<line x1="397.50" y1="559.14" x2="683.50" y2="559.14" stroke="#EF7047" stroke-width="1.6" stroke-linecap="butt" stroke-dasharray="6.04,2.61"/>
<line x1="397.50" y1="595.35" x2="683.50" y2="595.35" stroke="#6495ED" stroke-width="1.6" stroke-linecap="butt" stroke-dasharray="6.04,2.61"/>
<line x1="397.50" y1="631.47" x2="683.50" y2="631.47" stroke="#EF7047" stroke-width="1.6" stroke-linecap="butt" stroke-dasharray="6.04,2.61"/>
<g transform="translate(677.60,555.14)" fill="#000" stroke="#000" stroke-width="0.1"><text x="-51.26 -43.08 -36.20 -32.59 -25.58 -18.75 -15.69 -8.34" y="0.00" font-size="11.46">+1.96 SD</text></g>
<g transform="translate(677.60,568.24)" fill="#000" stroke="#000" stroke-width="0.1"><text x="-24.11 -17.30 -13.68 -6.67" y="0.00" font-size="11.46">3.73</text></g>
<g transform="translate(677.60,591.35)" fill="#000" stroke="#000" stroke-width="0.1"><text x="-29.93 -20.22 -13.91 -6.64" y="0.00" font-size="11.46">Mean</text></g>
<g transform="translate(677.60,604.45)" fill="#000" stroke="#000" stroke-width="0.1"><text x="-24.13 -17.30 -13.72 -6.72" y="0.00" font-size="11.46">0.15</text></g>
<g transform="translate(677.60,627.47)" fill="#000" stroke="#000" stroke-width="0.1"><text x="-28.31 -24.11 -17.30 -13.66 -6.82" y="0.00" font-size="11.46">-3.42</text></g>
<g transform="translate(677.60,640.57)" fill="#000" stroke="#000" stroke-width="0.1"><text x="-47.21 -43.08 -36.20 -32.59 -25.58 -18.75 -15.69 -8.34" y="0.00" font-size="11.46">-1.96 SD</text></g>
<rect x="397.5" y="481.5" width="286.0" height="169.0" fill="none" stroke="#000" stroke-width="0.95"/>
<line x1="408.33" y1="650.50" x2="408.33" y2="654.30" stroke="#000" stroke-width="0.95" stroke-linecap="butt"/>
<g transform="translate(408.33,665.90)" fill="#000" stroke="#000" stroke-width="0.1"><text x="-3.19" y="0.00" font-size="11.46">4</text></g>
<line x1="461.54" y1="650.50" x2="461.54" y2="654.30" stroke="#000" stroke-width="0.95" stroke-linecap="butt"/>
<g transform="translate(461.54,665.90)" fill="#000" stroke="#000" stroke-width="0.1"><text x="-3.19" y="0.00" font-size="11.46">6</text></g>
<line x1="514.75" y1="650.50" x2="514.75" y2="654.30" stroke="#000" stroke-width="0.95" stroke-linecap="butt"/>
<g transform="translate(514.75,665.90)" fill="#000" stroke="#000" stroke-width="0.1"><text x="-3.19" y="0.00" font-size="11.46">8</text></g>
<line x1="567.95" y1="650.50" x2="567.95" y2="654.30" stroke="#000" stroke-width="0.95" stroke-linecap="butt"/>
<g transform="translate(567.95,665.90)" fill="#000" stroke="#000" stroke-width="0.1"><text x="-6.74 0.30" y="0.00" font-size="11.46">10</text></g>
<line x1="621.16" y1="650.50" x2="621.16" y2="654.30" stroke="#000" stroke-width="0.95" stroke-linecap="butt"/>
<g transform="translate(621.16,665.90)" fill="#000" stroke="#000" stroke-width="0.1"><text x="-6.74 0.15" y="0.00" font-size="11.46">12</text></g>
<line x1="674.37" y1="650.50" x2="674.37" y2="654.30" stroke="#000" stroke-width="0.95" stroke-linecap="butt"/>
<g transform="translate(674.37,665.90)" fill="#000" stroke="#000" stroke-width="0.1"><text x="-6.74 0.30" y="0.00" font-size="11.46">14</text></g>
<line x1="393.70" y1="647.45" x2="397.50" y2="647.45" stroke="#000" stroke-width="0.95" stroke-linecap="butt"/>
<g transform="translate(389.80,651.45)" fill="#000" stroke="#000" stroke-width="0.1"><text x="-25.39 -17.19 -10.32 -6.68" y="0.00" font-size="11.46">−5.0</text></g>
<line x1="393.70" y1="622.16" x2="397.50" y2="622.16" stroke="#000" stroke-width="0.95" stroke-linecap="butt"/>
<g transform="translate(389.80,626.16)" fill="#000" stroke="#000" stroke-width="0.1"><text x="-25.39 -17.29 -10.32 -6.72" y="0.00" font-size="11.46">−2.5</text></g>
<line x1="393.70" y1="596.87" x2="397.50" y2="596.87" stroke="#000" stroke-width="0.95" stroke-linecap="butt"/>
<g transform="translate(389.80,600.87)" fill="#000" stroke="#000" stroke-width="0.1"><text x="-17.15 -10.32 -6.68" y="0.00" font-size="11.46">0.0</text></g>
<line x1="393.70" y1="571.58" x2="397.50" y2="571.58" stroke="#000" stroke-width="0.95" stroke-linecap="butt"/>
<g transform="translate(389.80,575.58)" fill="#000" stroke="#000" stroke-width="0.1"><text x="-17.29 -10.32 -6.72" y="0.00" font-size="11.46">2.5</text></g>
<line x1="393.70" y1="546.29" x2="397.50" y2="546.29" stroke="#000" stroke-width="0.95" stroke-linecap="butt"/>
<g transform="translate(389.80,550.29)" fill="#000" stroke="#000" stroke-width="0.1"><text x="-17.19 -10.32 -6.68" y="0.00" font-size="11.46">5.0</text></g>
<line x1="393.70" y1="521.00" x2="397.50" y2="521.00" stroke="#000" stroke-width="0.95" stroke-linecap="butt"/>
<g transform="translate(389.80,525.00)" fill="#000" stroke="#000" stroke-width="0.1"><text x="-17.17 -10.32 -6.72" y="0.00" font-size="11.46">7.5</text></g>
<line x1="393.70" y1="495.71" x2="397.50" y2="495.71" stroke="#000" stroke-width="0.95" stroke-linecap="butt"/>
<g transform="translate(389.80,499.71)" fill="#000" stroke="#000" stroke-width="0.1"><text x="-24.18 -17.15 -10.32 -6.68" y="0.00" font-size="11.46">10.0</text></g>
<g transform="translate(540.50,474.50)" fill="#000" stroke="#000" stroke-width="0.1"><text x="-139.42 -131.95 -123.72 -119.11 -113.94 -109.50 -100.76 -92.62 -84.79 -77.30 -69.01 -65.95 -56.97 -52.08 -47.66 -39.57 -31.39 -23.21 -15.22 -11.52 -2.54 2.14 9.66 18.16 22.05 31.43 34.48 43.17 51.37 59.50 63.77 73.11 77.09 82.30 94.07 102.75 110.86 114.45 123.04 126.59 135.03" y="0.00" font-size="13.69">L1 trabecular bone area Bland-Altman Plot</text></g>
<g transform="translate(540.50,681.90)" fill="#000" stroke="#000" stroke-width="0.1"><text x="-76.04 -66.33 -60.03 -52.75 -45.96 -42.45 -35.43 -31.90 -28.77 -20.60 -13.60 -10.50 -3.23 3.64 10.52 13.53 20.84 24.76 31.53 38.41 41.90" y="0.00" font-size="11.46">Mean of GT and Pred. </text><text x="45.36" y="0.00" font-size="11.46">[</text><text x="49.72 56.11" y="0.00" font-size="11.46" font-style="italic">cm</text><text x="66.94" y="-3.95" font-size="8.02">2</text><text x="72.69" y="0.00" font-size="11.46">]</text></g>
<g transform="translate(357.40,565.30) rotate(-90)" fill="#000" stroke="#000" stroke-width="0.1"><text x="-107.74 -99.14 -95.87 -92.01 -88.42 -81.32 -77.40 -70.55 -63.89 -57.67 -50.98 -47.28 -40.47 -33.40 -29.29 -20.45 -13.70 -6.84 -0.05 3.07 11.24 18.24 21.34 28.62 35.48 42.37 45.37 52.69 56.61 63.37 70.26 73.75" y="0.00" font-size="11.46">Difference between GT and Pred. </text><text x="77.21" y="0.00" font-size="11.46">[</text><text x="81.57 87.95" y="0.00" font-size="11.46" font-style="italic">cm</text><text x="98.79" y="-3.95" font-size="8.02">2</text><text x="104.54" y="0.00" font-size="11.46">]</text></g>
</svg></body></html>
